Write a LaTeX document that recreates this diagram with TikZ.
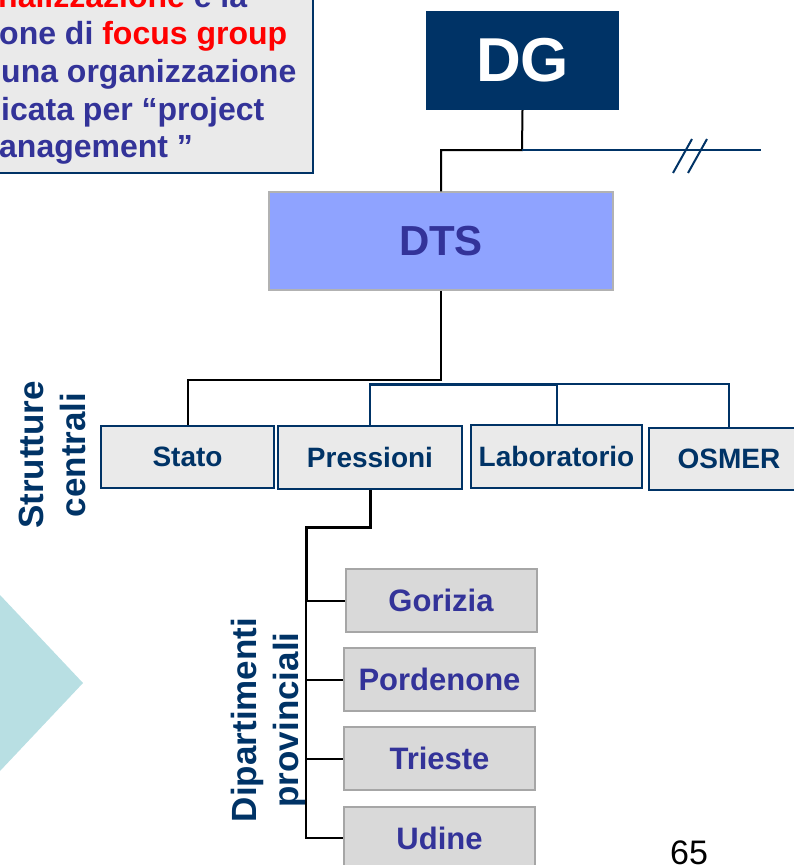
\documentclass[tikz,border=0pt]{standalone}
\usepackage{fontspec}
\setmainfont{Liberation Sans}
\definecolor{navy}{RGB}{0,51,102}
\definecolor{tblue}{RGB}{51,51,153}
\definecolor{dtsfill}{RGB}{143,163,255}
\definecolor{boxgray}{RGB}{234,234,234}
\definecolor{deptgray}{RGB}{217,217,217}
\definecolor{deptborder}{RGB}{166,166,166}
\definecolor{teal}{RGB}{184,223,227}
\definecolor{pred}{RGB}{255,0,0}
\tikzset{
  fs/.style={font=\fontsize{#1}{#1}\selectfont\bfseries},
  central/.style={draw=navy, line width=2pt, fill=boxgray, inner sep=0pt, text=navy, fs=28},
  dept/.style={draw=deptborder, line width=2pt, fill=deptgray, inner sep=0pt, text=tblue, fs=31, minimum width=191pt, minimum height=63pt},
  conn/.style={line width=2pt, black},
  nconn/.style={line width=2pt, navy},
  vlabel/.style={rotate=90, anchor=base, text=navy, fs=35},
  boxtext/.style={anchor=base west, inner sep=0pt, text=tblue, fs=32}
}
\begin{document}
\begin{tikzpicture}[x=1pt,y=-1pt]
\useasboundingbox (0,0) rectangle (794,865);
\clip (0,0) rectangle (794,865);
% text box
\path[fill=boxgray, draw=navy, line width=2pt] (-10,-10) rectangle (313,173);
\node[boxtext] (l1) at (-2,7) {\textcolor{pred}{nalizzazione} e la};
\node[boxtext] (l2) at (-1,44) {one di \textcolor{pred}{focus group}};
\node[boxtext] (l3) at (1,82) {una organizzazione};
\node[boxtext] (l4) at (1,120) {icata per “project};
\node[boxtext] (l5) at (-1,157) {anagement ”};
% triangle
\fill[teal] (-20,575) -- (0,595) -- (83,683) -- (0,771) -- (-20,791) -- cycle;
% DG
\node[fill=navy, inner sep=0pt, minimum width=193pt, minimum height=99pt, text=white, fs=62] (dg) at (522.5,60.5) {DG};
% DTS
\node[fill=dtsfill, draw=black!30, line width=1.5pt, inner sep=0pt, minimum width=344pt, minimum height=98pt, text=tblue, fs=42] (dts) at (441,241) {DTS};
% central structures
\node[central, minimum width=173pt, minimum height=62pt] (stato) at (187.5,457) {Stato};
\node[central, minimum width=184pt, minimum height=63pt] (press) at (370,457.5) {Pressioni};
\node[central, minimum width=171pt, minimum height=63pt] (lab) at (556.5,456.5) {Laboratorio};
\node[central, minimum width=160pt, minimum height=62pt] (osmer) at (729,459) {OSMER};
% departments
\node[dept] (gor) at (441,600.5) {Gorizia};
\node[dept] (por) at (439.5,679.5) {Pordenone};
\node[dept] (tri) at (439.5,758.5) {Trieste};
\node[dept] (udi) at (439.5,838) {Udine};
% labels
\node[vlabel] (s1) at (43,455) {Strutture};
\node[vlabel] (s2) at (85,455) {centrali};
\node[vlabel] (d1) at (256,720) {Dipartimenti};
\node[vlabel] (d2) at (298,720) {provinciali};
% page number
\node[anchor=base, inner sep=0pt, font=\fontsize{34}{34}\selectfont] (pg) at (689,864) {65};
% connectors
\coordinate (j1) at (522,150);
\coordinate (far) at (761,150);
\draw[conn] (dg.south) -- (j1) -| (dts.north);
\draw[nconn] (j1) -- (far);
\draw[nconn] (673,173) -- (692,139);
\draw[nconn] (688,173) -- (707,139);
\coordinate (j2) at (441,380);
\draw[conn] (dts.south) -- (j2) -| (stato.north);
\coordinate (j3) at (370,384);
\draw[nconn] (press.north) -- (j3) -| (osmer.north);
\draw[nconn, line width=3pt] (j3) -- (j3 -| lab.north);
\draw[nconn] (j3 -| lab.north) -- (lab.north);
\coordinate (j4) at (370,527);
\coordinate (j5) at (306,527);
\draw[conn, line width=3pt] (press.south) -- (j4) -- (j5) -- (j5 |- gor.west);
\draw[conn] (j5) |- (gor.west);
\draw[conn] (j5) |- (por.west);
\draw[conn] (j5) |- (tri.west);
\draw[conn] (j5) |- (udi.west);
\end{tikzpicture}
\end{document}
